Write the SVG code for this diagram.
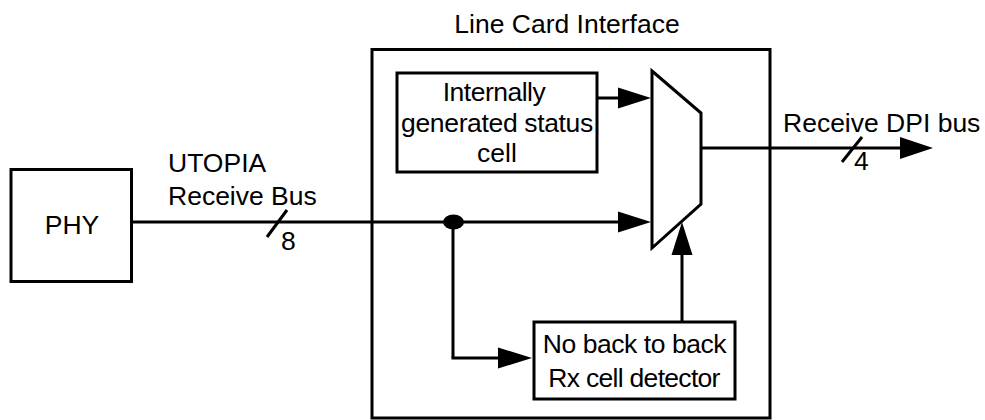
<svg xmlns="http://www.w3.org/2000/svg" width="985" height="420" viewBox="0 0 985 420">
<style>
.box{fill:#fff;stroke:#000;stroke-width:3}
.ln{fill:none;stroke:#000;stroke-width:3}
.ah{fill:#000;stroke:none}
text{font-family:"Liberation Sans",Arial,sans-serif;font-size:26.5px;fill:#000}
.c{text-anchor:middle}
</style>
<rect width="985" height="420" fill="#fff"/>
<g id="line-card-interface">
<rect class="box" x="372" y="49.5" width="398" height="368.5"/>
<text class="c" x="567" y="33">Line Card Interface</text>
</g>
<g id="phy">
<rect class="box" x="11" y="169.5" width="120.5" height="112"/>
<text class="c" x="72" y="234">PHY</text>
</g>
<g id="status-cell">
<rect class="box" x="397" y="73" width="200" height="99"/>
<text class="c" x="494" y="101" letter-spacing="-0.5">Internally</text>
<text class="c" x="497" y="131.5" letter-spacing="-0.35">generated status</text>
<text class="c" x="497" y="162">cell</text>
</g>
<g id="mux">
<polygon class="box" points="652,71 701,113 701,204 652,248"/>
</g>
<g id="detector">
<rect class="box" x="534" y="322" width="201" height="77"/>
<text class="c" x="634.5" y="353" letter-spacing="-0.45">No back to back</text>
<text class="c" x="634" y="387" letter-spacing="-0.7">Rx cell detector</text>
</g>
<g id="connectors">
<line class="ln" x1="131.5" y1="222" x2="620" y2="222"/>
<polygon class="ah" points="618,211.5 651,222 618,232.5"/>
<ellipse cx="453.5" cy="222" rx="10.5" ry="7.5" fill="#000"/>
<line class="ln" x1="267" y1="237" x2="287" y2="210"/>
<text x="281" y="250">8</text>
<text x="168" y="172">UTOPIA</text>
<text x="168" y="205">Receive Bus</text>
<line class="ln" x1="597" y1="98" x2="620" y2="98"/>
<polygon class="ah" points="618,87.5 651,98 618,108.5"/>
<line class="ln" x1="453" y1="222" x2="453" y2="358"/>
<line class="ln" x1="451.5" y1="358" x2="500" y2="358"/>
<polygon class="ah" points="498,347.5 532,358 498,368.5"/>
<line class="ln" x1="682" y1="322" x2="682" y2="252"/>
<polygon class="ah" points="671.5,255 682,222 692.5,255"/>
<line class="ln" x1="701" y1="148" x2="902" y2="148"/>
<polygon class="ah" points="900,137 933,148 900,159"/>
<line class="ln" x1="842" y1="162" x2="862" y2="137"/>
<text x="854" y="170">4</text>
<text x="783" y="132">Receive DPI bus</text>
</g>
</svg>
